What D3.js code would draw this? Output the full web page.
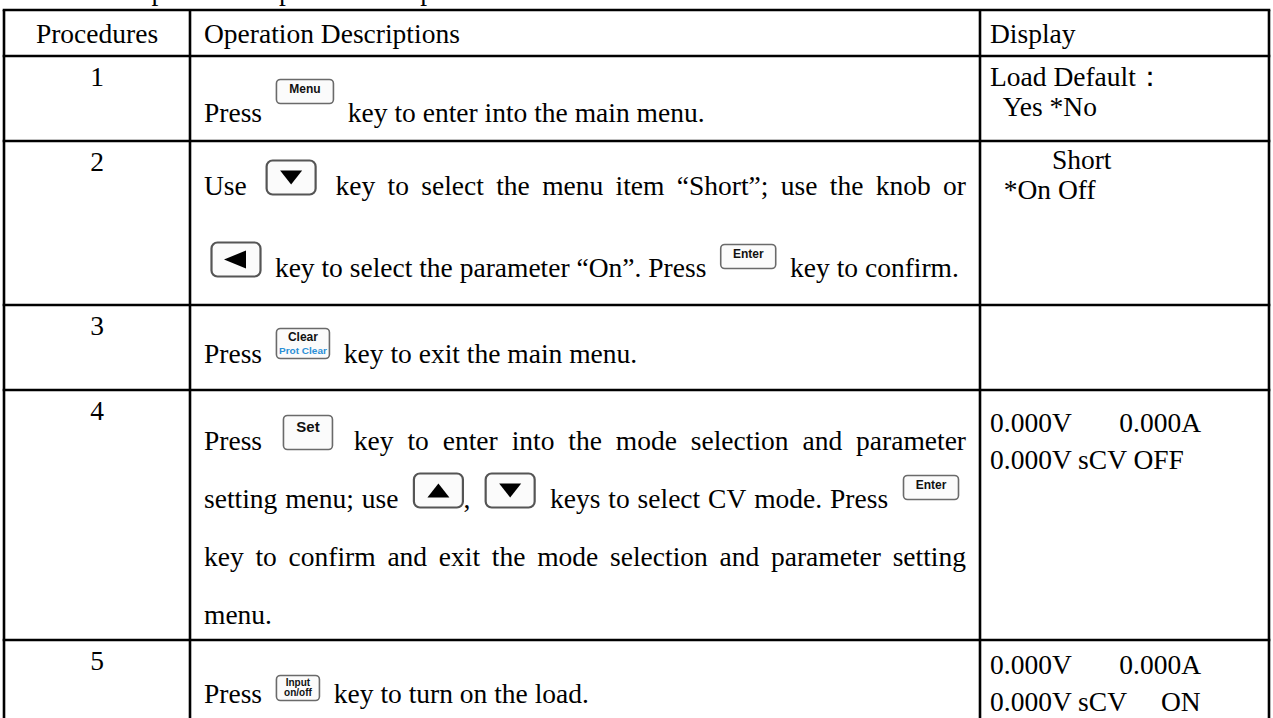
<!DOCTYPE html>
<html><head><meta charset="utf-8">
<script src="https://cdn.jsdelivr.net/npm/d3@7"></script>
<style>html,body{margin:0;padding:0;background:#fff;overflow:hidden}</style>
</head><body>
<svg id="chart" width="1273" height="718"></svg>
<script>
// ---------------- DATA ----------------
const caption = "The operation steps of the simple CV mode are as follows:";
const headers = ["Procedures", "Operation Descriptions", "Display"];
const procedures = ["1", "2", "3", "4", "5"];
const descriptions = [
  ["Press {Menu} key to enter into the main menu."],
  ["Use {Down} key to select the menu item \u201cShort\u201d; use the knob or",
   "{Left} key to select the parameter \u201cOn\u201d. Press {Enter} key to confirm."],
  ["Press {Clear} key to exit the main menu."],
  ["Press {Set} key to enter into the mode selection and parameter",
   "setting menu; use {Up}, {Down} keys to select CV mode. Press {Enter}",
   "key to confirm and exit the mode selection and parameter setting",
   "menu."],
  ["Press {Input} key to turn on the load."]
];
const justified = [[false], [true, false], [false], [true, true, true, false], [false]];
const displays = [
  ["Load Default\uff1a", "  Yes *No"],
  ["         Short", "  *On Off"],
  [],
  ["0.000V       0.000A", "0.000V sCV OFF"],
  ["0.000V       0.000A", "0.000V sCV     ON"]
];

// ---------------- LAYOUT / STYLE ----------------
const FONT = "'Liberation Serif','Times New Roman',serif";
const FS = 27.5;
const tableTop = 10;
const colEdges = [4, 190, 980, 1269];
const rowHeights = [46, 85, 164, 85, 250, 95];
const descLineOffsets = [[66], [54, 136], [58], [60, 118, 176, 234], [63]];
const dispLineOffsets = [[30, 60], [28, 58], [], [42, 79], [34, 71]];
const padL = 14, textRight = 966;

const keySpec = {
  Menu:  {w: 58, h: 25, raise: 18, kind: "label", labels: [["Menu", 12, "#111"]]},
  Enter: {w: 56, h: 25, raise: 8,  kind: "label", labels: [["Enter", 12, "#111"]]},
  Set:   {w: 50, h: 35, raise: 0,  kind: "label", labels: [["Set", 15, "#111"]]},
  Clear: {w: 54, h: 31, raise: 4,  kind: "two", labels: [["Clear", 12, "#111"], ["Prot Clear", 9.5, "#2b8fd6"]]},
  Input: {w: 44, h: 26, raise: 2,  kind: "two", labels: [["Input", 10, "#111"], ["on/off", 10, "#111"]]},
  Up:    {w: 50, h: 35, raise: 0,  kind: "arrow", dir: "up"},
  Down:  {w: 50, h: 35, raise: 0,  kind: "arrow", dir: "down"},
  Left:  {w: 50, h: 35, raise: 0,  kind: "arrow", dir: "left"}
};
const keyMargin = 7;

const svg = d3.select("#chart");
const rowKeys = ["header", ...procedures];
const rowTops = rowHeights.reduce((a, h, i) => { a.push(a[i] + h); return a; }, [tableTop]);
const yRow = d3.scaleOrdinal().domain(rowKeys).range(rowTops.slice(0, -1));
const xCol = d3.scaleOrdinal().domain(headers).range(colEdges.slice(0, 3));
const wCol = d3.scaleOrdinal().domain(headers).range(colEdges.slice(1).map((e, i) => e - colEdges[i]));

// caption line above the table (mostly cut off by the top edge)
svg.append("text").attr("x", 88).attr("y", 0).attr("font-family", FONT).attr("font-size", FS)
  .attr("fill", "#000").text(caption);

// grid
const grid = svg.append("g").attr("stroke", "#000").attr("stroke-width", 2.6);
grid.selectAll("line.h").data(rowTops).join("line").attr("class", "h")
  .attr("x1", colEdges[0] - 1.3).attr("x2", colEdges[3] + 1.3).attr("y1", d => d).attr("y2", d => d);
grid.selectAll("line.v").data(colEdges).join("line").attr("class", "v")
  .attr("x1", d => d).attr("x2", d => d).attr("y1", tableTop).attr("y2", rowTops[rowTops.length - 1]);

// header
svg.selectAll("text.hdr").data(headers).join("text").attr("class", "hdr")
  .attr("x", (d, i) => i === 0 ? xCol(d) + wCol(d) / 2 : xCol(d) + padL - (i === 2 ? 4 : 0))
  .attr("y", yRow("header") + 33)
  .attr("text-anchor", (d, i) => i === 0 ? "middle" : "start")
  .attr("font-family", FONT).attr("font-size", FS).text(d => d);

// procedure numbers
svg.selectAll("text.num").data(procedures).join("text").attr("class", "num")
  .attr("x", xCol(headers[0]) + wCol(headers[0]) / 2)
  .attr("y", d => yRow(d) + 30)
  .attr("text-anchor", "middle").attr("font-family", FONT).attr("font-size", FS).text(d => d);

// display column
procedures.forEach((p, r) => {
  svg.append("g").selectAll("text").data(displays[r]).join("text")
    .attr("x", xCol(headers[2]) + 10)
    .attr("y", (d, i) => yRow(p) + dispLineOffsets[r][i])
    .attr("font-family", FONT).attr("font-size", FS)
    .style("white-space", "pre").attr("xml:space", "preserve").text(d => d);
});

// measuring helper
const meas = svg.append("text").attr("font-family", FONT).attr("font-size", FS)
  .style("white-space", "pre").attr("xml:space", "preserve").attr("opacity", 0);
function tw(s) { meas.text(s); return meas.node().getComputedTextLength(); }
const spaceW = tw("a a") - tw("aa");

function parseWord(w) {
  const parts = [];
  const re = /\{(\w+)\}/g; let last = 0, m;
  while ((m = re.exec(w))) {
    if (m.index > last) parts.push({t: "text", s: w.slice(last, m.index)});
    parts.push({t: "key", k: m[1]});
    last = re.lastIndex;
  }
  if (last < w.length) parts.push({t: "text", s: w.slice(last)});
  parts.forEach((p, i) => {
    if (p.t === "text") p.w = tw(p.s);
    else p.w = keySpec[p.k].w + keyMargin + (i < parts.length - 1 ? 0 : keyMargin);
  });
  return parts;
}

function drawKey(g, name, x, baseline) {
  const s = keySpec[name];
  const y = baseline - s.raise - s.h;
  const k = g.append("g").attr("transform", `translate(${x},${y})`);
  if (s.kind === "arrow") {
    k.append("rect").attr("x", 0.5).attr("y", 0.5).attr("width", s.w - 1).attr("height", s.h - 1)
      .attr("rx", 6).attr("fill", "#fbfbfb").attr("stroke", "#555").attr("stroke-width", 2.2);
    const cx = s.w / 2, cy = s.h / 2;
    let pts;
    if (s.dir === "down") pts = [[cx - 11, cy - 7], [cx + 11, cy - 7], [cx, cy + 7]];
    else if (s.dir === "up") pts = [[cx - 11, cy + 7], [cx + 11, cy + 7], [cx, cy - 7]];
    else pts = [[cx + 10, cy - 9], [cx + 10, cy + 9], [cx - 12, cy]];
    k.append("polygon").attr("points", pts.map(p => p.join(",")).join(" ")).attr("fill", "#000");
  } else {
    k.append("rect").attr("x", 0.5).attr("y", 0.5).attr("width", s.w - 1).attr("height", s.h - 1)
      .attr("rx", 4).attr("fill", "#fbfbfb").attr("stroke", "#6a6a6a").attr("stroke-width", 1.6);
    if (s.kind === "label") {
      const [lab, fs, col] = s.labels[0];
      k.append("text").attr("x", s.w / 2).attr("y", fs + 2).attr("text-anchor", "middle")
        .attr("font-family", "'Liberation Sans',Arial,sans-serif").attr("font-weight", "bold")
        .attr("font-size", fs).attr("fill", col).text(lab);
    } else {
      s.labels.forEach(([lab, fs, col], i) => {
        k.append("text").attr("x", s.w / 2).attr("y", i === 0 ? fs + 1 : s.h - 5)
          .attr("text-anchor", "middle")
          .attr("font-family", "'Liberation Sans',Arial,sans-serif").attr("font-weight", "bold")
          .attr("font-size", fs).attr("fill", col)
          .attr("textLength", i === 1 && name === "Clear" ? s.w - 6 : null)
          .attr("lengthAdjust", "spacingAndGlyphs").text(lab);
      });
    }
  }
}

// descriptions
procedures.forEach((p, r) => {
  const g = svg.append("g");
  descriptions[r].forEach((line, li) => {
    const baseline = yRow(p) + descLineOffsets[r][li];
    const words = line.split(" ").map(parseWord);
    const widths = words.map(ps => d3.sum(ps, q => q.w));
    const natural = d3.sum(widths) + spaceW * (words.length - 1);
    const left = xCol(headers[1]) + padL;
    let gap = spaceW;
    if (justified[r][li] && words.length > 1) gap = spaceW + (textRight - left - natural) / (words.length - 1);
    let x = left;
    words.forEach(ps => {
      ps.forEach(q => {
        if (q.t === "text") {
          g.append("text").attr("x", x).attr("y", baseline).attr("font-family", FONT)
            .attr("font-size", FS).text(q.s);
        } else {
          drawKey(g, q.k, x + keyMargin, baseline);
        }
        x += q.w;
      });
      x += gap;
    });
  });
});
meas.remove();
</script>
</body></html>
